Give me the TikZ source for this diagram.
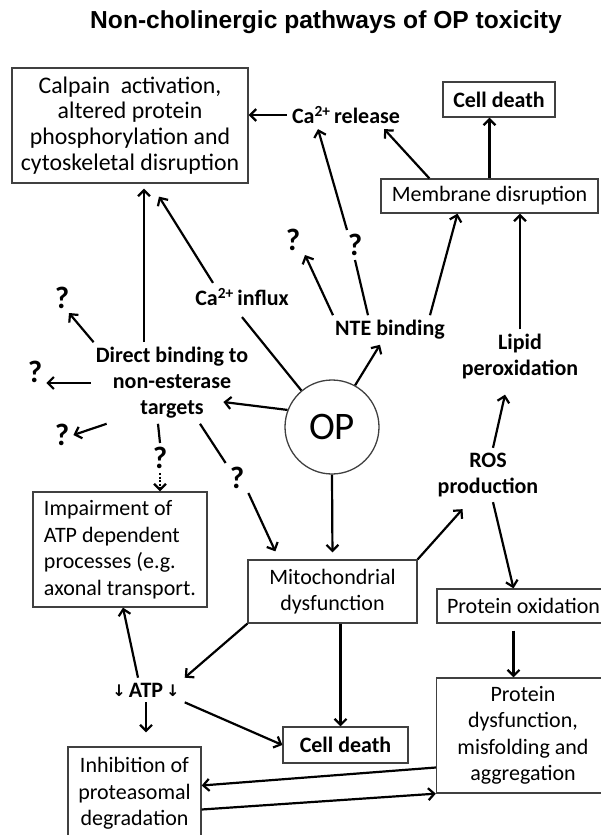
\documentclass[tikz,border=0pt]{standalone}
\usepackage{fontspec}
\setmainfont{Carlito}
\newfontfamily\titlefont{Liberation Sans}
\newfontfamily\symfont{DejaVu Sans}
\usetikzlibrary{calc, positioning}
\usetikzlibrary{arrows.meta}

\newcommand{\smalldown}{{\symfont\fontsize{16}{16}\selectfont\raisebox{1pt}{↓}}}

\begin{document}
\begin{tikzpicture}[x=1pt,y=-1pt,
  box/.style={draw=black!75, line width=1.3pt, align=center, inner sep=0pt,
    font=\fontsize{22}{26.5}\selectfont},
  lbl/.style={align=center, inner sep=5pt, font=\fontsize{22}{26}\selectfont\bfseries},
  qmark/.style={inner sep=4pt, font=\fontsize{31}{31}\selectfont\bfseries},
  arr/.style={line width=2.2pt, -{Straight Barb[length=6pt,width=12pt]}},
  link/.style={line width=2.2pt}]
\path[use as bounding box, clip] (0,0) rectangle (601,835);

% title
\node[anchor=base, font=\titlefont\fontsize{24.6}{28}\selectfont\bfseries] (title) at (326,28.5)
  {Non-cholinergic pathways of OP toxicity};

% boxes
\node[box, minimum width=236, minimum height=115, font=\fontsize{23.8}{25.7}\selectfont] (calpain) at (130,125.5)
  {Calpain\ \ activation,\\altered protein\\phosphorylation and\\cytoskeletal disruption};
\node[box, minimum width=112, minimum height=35, font=\fontsize{22}{26.5}\selectfont\bfseries] (celltop) at (499,99.5) {Cell death};
\node[box, minimum width=217, minimum height=34] (membrane) at (489.5,196) {Membrane disruption};
\node[box, minimum width=169, minimum height=63] (mito) at (332.5,591.5) {Mitochondrial\\dysfunction};
\node[box, align=left, minimum width=174, minimum height=115] (impair) at (120,549.5)
  {Impairment of\\ATP dependent\\processes (e.g.\\axonal transport.};
\node[box, minimum width=173, minimum height=34] (protox) at (523.5,606) {Protein oxidation};
\node[box, minimum width=173, minimum height=115] (protdys) at (523,735.5)
  {Protein\\dysfunction,\\misfolding and\\aggregation};
\node[box, minimum width=125, minimum height=36, font=\fontsize{22}{26.5}\selectfont\bfseries] (celllow) at (345.5,745) {Cell death};
\node[box, minimum width=133, minimum height=93] (inhib) at (134.5,793.5)
  {Inhibition of\\proteasomal\\degradation};

% OP
\node[circle, draw=black!75, line width=1.3pt, minimum size=94, inner sep=0pt,
  font=\fontsize{39}{39}\selectfont] (op) at (332,427) {OP};

% bold labels
\node[lbl] (carel) at (346,115) {Ca\textsuperscript{2+}\,release};
\node[lbl] (influx) at (242,297) {Ca\textsuperscript{2+}\,influx};
\node[lbl] (nte) at (390,330) {NTE binding};
\node[lbl] (lipid) at (520,357) {Lipid\\peroxidation};
\node[lbl] (direct) at (172,383) {Direct binding to\\non-esterase\\targets};
\node[lbl] (ros) at (488,475) {ROS\\production};
\node[lbl] (atp) at (146,690) {\smalldown\hspace{3pt}ATP\hspace{3pt}\smalldown};

% question marks
\node[qmark] (q1) at (293,240) {?};
\node[qmark] (q2) at (355,245) {?};
\node[qmark] (qtl) at (62,298) {?};
\node[qmark] (ql) at (35,372) {?};
\node[qmark] (qbl) at (62,435) {?};
\node[qmark] (qmid) at (160,458) {?};
\node[qmark] (qdiag) at (237,478) {?};

\coordinate (dtop) at ([xshift=-28pt]direct.north);
\coordinate (oxbot) at ([xshift=-10pt]protox.south);
\coordinate (mitobot) at ([xshift=8pt]mito.south);

% upper part
\draw[arr] (carel.west) -- (carel.west -| calpain.east);
\draw[arr] (membrane.north) -- (membrane.north |- celltop.south);
\draw[arr] ([xshift=49pt]membrane.north west) -- ([xshift=-21pt]carel.south east);
\draw[arr] ([xshift=-8pt]q2.north) -- ([xshift=-28pt]carel.south);
\draw[link] ([xshift=-22pt]nte.north) -- (q2.south);
\draw[arr] ([xshift=-57pt]nte.north) -- ([xshift=12pt]q1.south);
\draw[arr] ([xshift=40pt]nte.north) -- ([xshift=-32pt]membrane.south);
\draw[arr] (lipid.north) -- (lipid.north |- membrane.south);
\draw[arr] (op.61) -- ([xshift=-10pt]nte.south);
\draw[link] (op.130) -- ([yshift=-6pt]influx.south);
\draw[arr] ([xshift=-29pt]influx.north) -- ([xshift=29pt,yshift=-13pt]calpain.south);
\draw[arr, shorten >=5pt] (dtop) -- (dtop |- calpain.south);

% direct binding
\draw[arr] ([xshift=3pt]direct.north west) -- ([xshift=7pt]qtl.south);
\draw[arr] (direct.west) -- (direct.west -| ql.east);
\draw[arr] ([xshift=16pt]direct.south west) -- (qbl.east);
\draw[link] ([xshift=-14pt]direct.south) -- (qmid.north);
\draw[arr, dash pattern=on 2pt off 1.5pt] (qmid.south) -- (qmid.south |- impair.north);
\draw[link] ([xshift=28pt]direct.south) -- (qdiag.north west);
\draw[arr] (qdiag.south east) -- ([xshift=28pt,yshift=8pt]mito.north west);
\draw[arr] (op.159) -- ([xshift=-30pt,yshift=-19pt]direct.east);

% mitochondria and ROS
\draw[arr, shorten >=7pt] (op.south) -- (mito.north);
\draw[arr] (mito.north east) -- ([xshift=30pt,yshift=-7pt]ros.south west);
\draw[arr] ([xshift=5pt]ros.north) -- ([xshift=-15pt,yshift=-10pt]lipid.south);
\draw[arr] ([xshift=5pt]ros.south) -- ([xshift=-10pt]protox.north);
\draw[arr, shorten <=7pt] (oxbot) -- (oxbot |- protdys.north);
\draw[arr] (mitobot) -- (mitobot |- celllow.north);

% ATP
\draw[arr] (mito.south west) -- (atp.north east);
\draw[arr] ([xshift=-8pt]atp.north) -- ([xshift=3pt]impair.south);
\draw[arr, shorten >=14pt] (atp.south) -- (atp.south |- inhib.north);
\draw[arr] (atp.south east) -- (celllow.west);
\draw[arr] ([yshift=-32pt]protdys.west) -- ([yshift=8pt]inhib.east);
\draw[arr] ([yshift=-16pt]inhib.east) -- (protdys.south west);
\end{tikzpicture}
\end{document}
